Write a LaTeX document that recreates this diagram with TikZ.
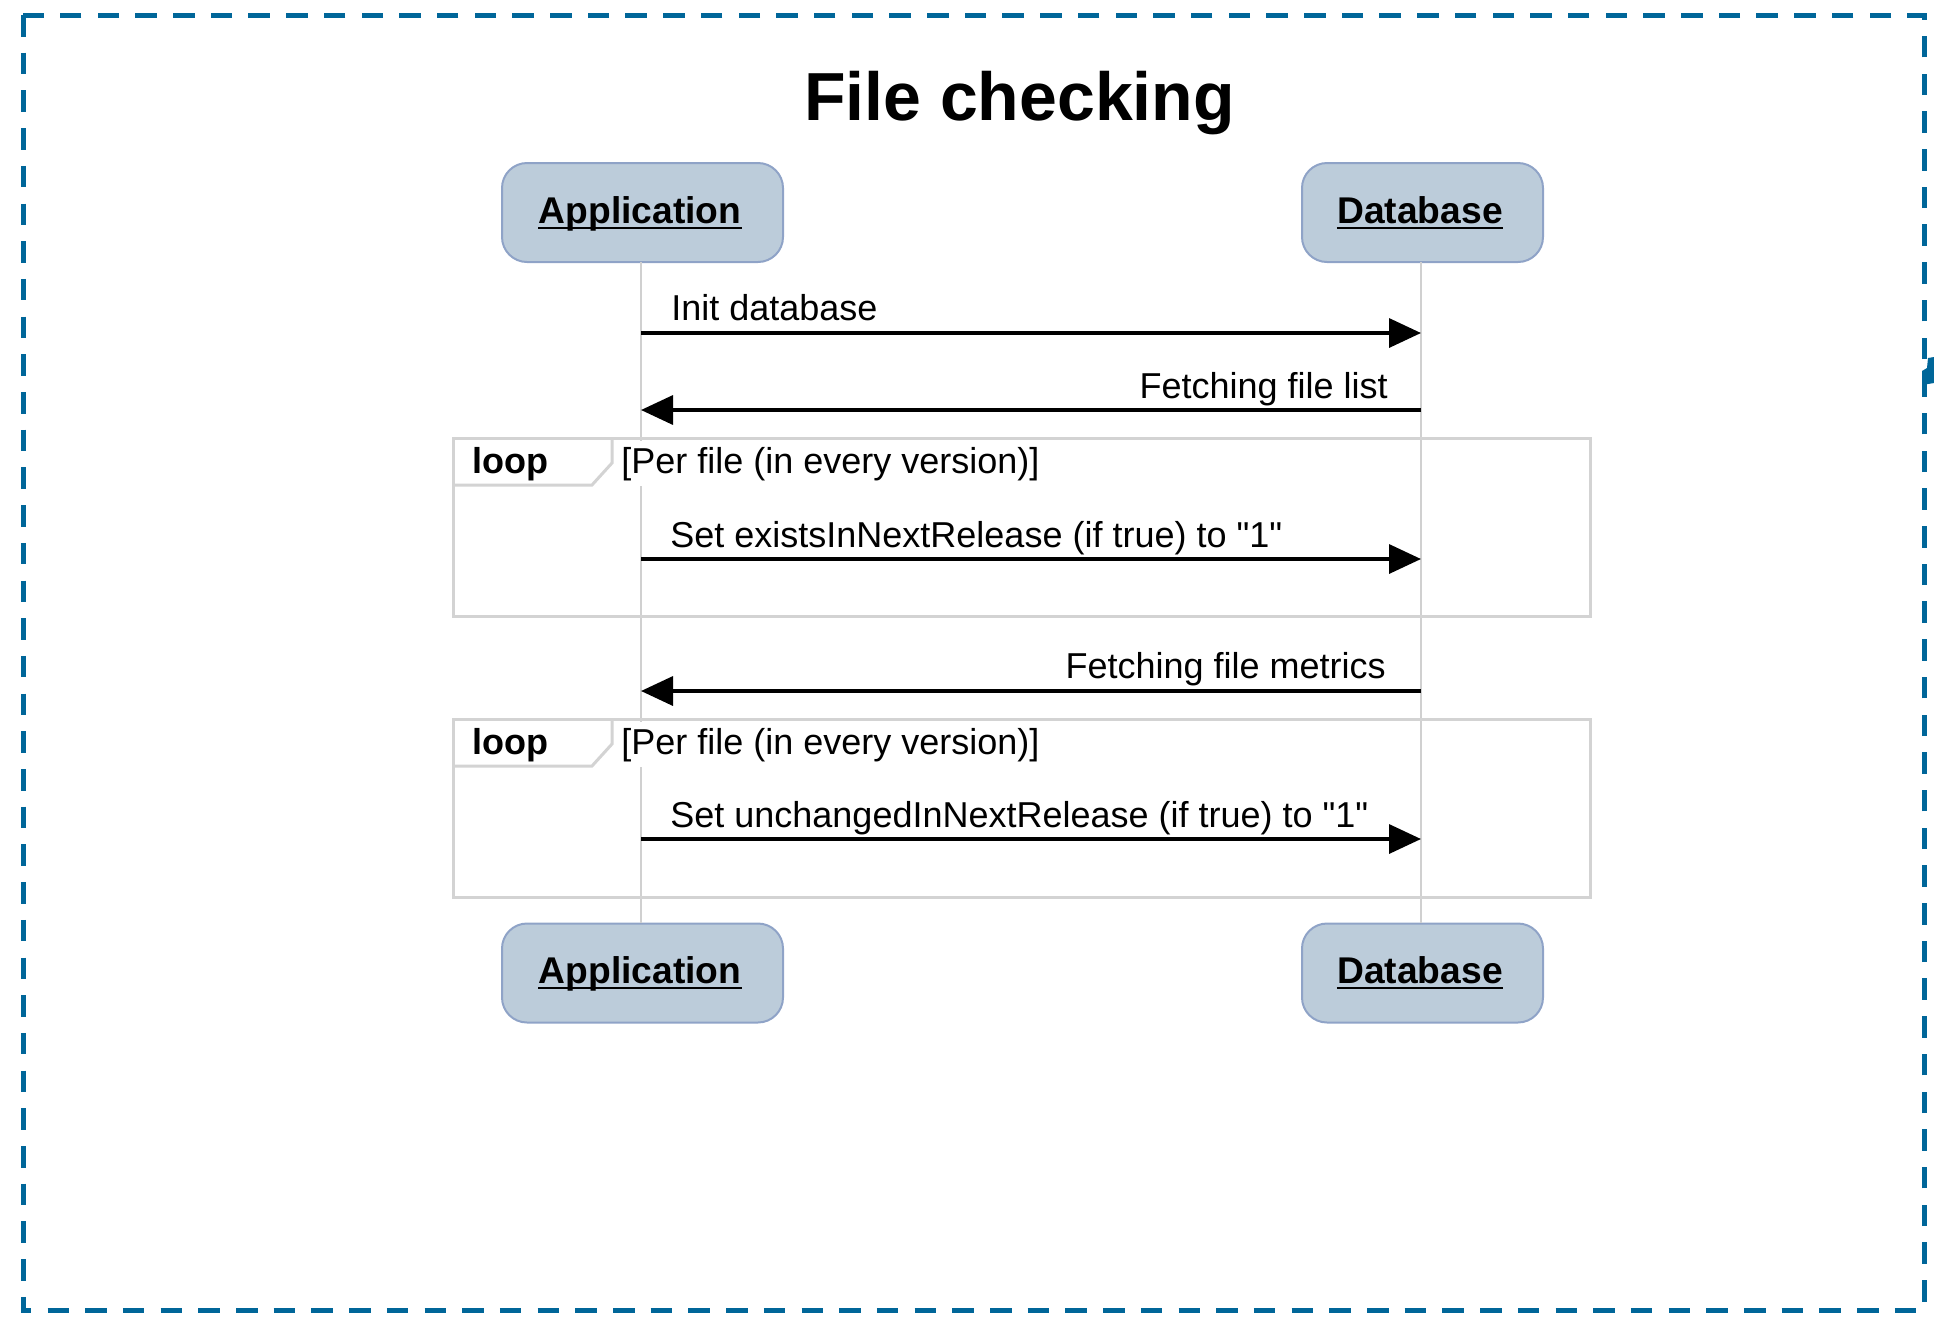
\documentclass[tikz,border=0pt]{standalone}
\usepackage{fontspec}
\setmainfont{Liberation Sans}[Ligatures=TeXOff]
\usetikzlibrary{arrows.meta}

\definecolor{frameblue}{RGB}{0,102,153}
\definecolor{boxfill}{RGB}{188,204,218}
\definecolor{boxline}{RGB}{143,163,199}
\definecolor{lifegray}{RGB}{208,208,208}
\definecolor{loopgray}{RGB}{211,211,211}

\begin{document}
\begin{tikzpicture}[x=0.5pt,y=-0.5pt,
  actorbox/.style={draw=boxline, line width=1pt, fill=boxfill,
    rounded corners=12.5pt, minimum height=49.5pt, inner sep=0pt},
  actorlabel/.style={inner sep=0pt, anchor=base,
    font=\fontsize{18.6}{20}\selectfont\bfseries},
  msglabel/.style={inner sep=0pt, font=\fontsize{18}{20}\selectfont},
  looplabel/.style={inner sep=0pt, anchor=base west,
    font=\fontsize{18}{20}\selectfont\bfseries},
  condlabel/.style={msglabel, anchor=base west, fill=white,
    inner xsep=1pt, inner ysep=3pt},
  lifeline/.style={draw=lifegray, line width=1.25pt},
  loopframe/.style={draw=loopgray, line width=1.5pt},
  msg/.style={line width=1.75pt, -{Triangle[length=16pt,width=14.5pt]}},
  uline/.style={line width=1.25pt}
]
\useasboundingbox (0,0) rectangle (1934,1335);

% outer dashed border
\draw[frameblue, line width=2.5pt, dash pattern=on 10.75pt off 8.1pt]
  (23,15) rectangle (1924,1310);
\fill[frameblue] (1922,371) -- (1927,368) -- (1928,358) -- (1934,357)
  -- (1934,383) -- (1922,385) -- cycle;

% title
\node[inner sep=0pt, anchor=base, font=\fontsize{34}{40}\selectfont\bfseries]
  (title) at (1019.5,120) {File checking};

% participants
\node[actorbox, minimum width=140.5pt] (appTop) at (642.5,212.5) {};
\node[actorbox, minimum width=120.5pt] (dbTop)  at (1422.5,212.5) {};
\node[actorbox, minimum width=140.5pt] (appBot) at (642.5,973) {};
\node[actorbox, minimum width=120.5pt] (dbBot)  at (1422.5,973) {};

\node[actorlabel] (appTopL) at (640,223) {Application};
\node[actorlabel] (dbTopL)  at (1420,223) {Database};
\node[actorlabel] (appBotL) at (640,983) {Application};
\node[actorlabel] (dbBotL)  at (1420,983) {Database};
\foreach \n in {appTopL,dbTopL,appBotL,dbBotL}
  \draw[uline] ([yshift=-2.6pt]\n.base west) -- ([yshift=-2.6pt]\n.base east);

% lifelines
\coordinate (appL) at (641,262);
\coordinate (appR) at (641,923);
\coordinate (dbL)  at (1421,262);
\coordinate (dbR)  at (1421,923);
\draw[lifeline] (appL) -- (appR);
\draw[lifeline] (dbL) -- (dbR);

% loop conditions (white background hides the lifeline)
\node[condlabel] (cond1) at (619,473) {[Per file (in every version)]};
\node[condlabel] (cond2) at (619,754) {[Per file (in every version)]};

% loop frames
\draw[loopframe] (453,438) rectangle (1590,616);
\draw[loopframe] (453,485) -- (592,485) -- (612,463) -- (612,438);
\node[looplabel] (loop1) at (472,473) {loop};

\draw[loopframe] (453,719) rectangle (1590,897);
\draw[loopframe] (453,766) -- (592,766) -- (612,744) -- (612,719);
\node[looplabel] (loop2) at (472,754) {loop};

% messages
\coordinate (a1) at (641,333);  \coordinate (d1) at (1421,333);
\coordinate (a2) at (641,410);  \coordinate (d2) at (1421,410);
\coordinate (a3) at (641,559);  \coordinate (d3) at (1421,559);
\coordinate (a4) at (641,691);  \coordinate (d4) at (1421,691);
\coordinate (a5) at (641,839);  \coordinate (d5) at (1421,839);

\draw[msg] (a1) -- (d1);
\node[msglabel, anchor=base west] (m1) at (671,320) {Init database};

\draw[msg] (d2) -- (a2);
\node[msglabel, anchor=base east] (m2) at (1388,398) {Fetching file list};

\draw[msg] (a3) -- (d3);
\node[msglabel, anchor=base west] (m3) at (670,547) {Set existsInNextRelease (if true) to "1"};

\draw[msg] (d4) -- (a4);
\node[msglabel, anchor=base east] (m4) at (1386,678) {Fetching file metrics};

\draw[msg] (a5) -- (d5);
\node[msglabel, anchor=base west] (m5) at (670,827) {Set unchangedInNextRelease (if true) to "1"};
\end{tikzpicture}
\end{document}
